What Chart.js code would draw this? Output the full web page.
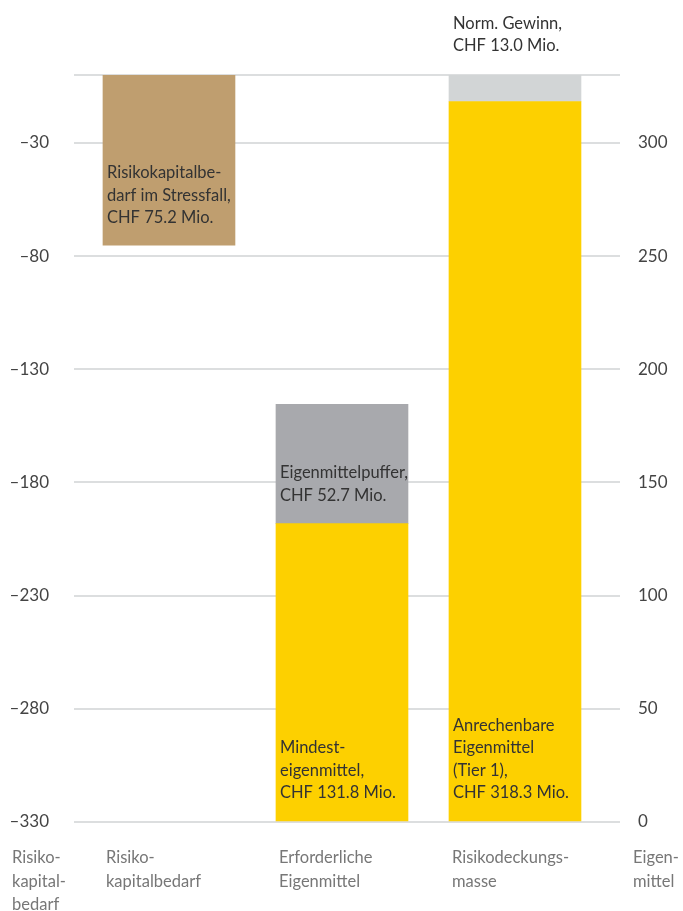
<!DOCTYPE html>
<html>
<head>
<meta charset="utf-8">
<script src="https://cdn.jsdelivr.net/npm/chart.js@4"></script>
<style>
  body { margin: 0; background: #fff; }
  #wrap { width: 683px; height: 911px; }
</style>
</head>
<body>
<div id="wrap"><canvas id="capitalChart"></canvas></div>
<script>
// --- Data ---
const categories = [['Risiko-', 'kapitalbedarf'], ['Erforderliche', 'Eigenmittel'], ['Risikodeckungs-', 'masse']];
const leftAxisTitle = ['Risiko-', 'kapital-', 'bedarf'];
const rightAxisTitle = ['Eigen-', 'mittel'];

const stressCapital = [75.2, null, null];    // Risikokapitalbedarf im Stressfall (left axis, downwards from 0)
const minimumCapital = [null, 131.8, null];  // Mindesteigenmittel
const capitalBuffer = [null, 52.7, null];    // Eigenmittelpuffer
const eligibleCapital = [null, null, 318.3]; // Anrechenbare Eigenmittel (Tier 1)
const normProfit = [null, null, 13.0];       // Norm. Gewinn

const leftTicks = [-330, -280, -230, -180, -130, -80, -30, 0];
const rightTicks = [0, 50, 100, 150, 200, 250, 300, 330];

const barLabels = [
    { dataset: 0, index: 0, anchor: 'top', lines: ['Risikokapitalbe-', 'darf im Stressfall,', 'CHF 75.2 Mio.'] },
    { dataset: 2, index: 1, anchor: 'bottom', lines: ['Eigenmittelpuffer,', 'CHF 52.7 Mio.'] },
    { dataset: 1, index: 1, anchor: 'bottom', lines: ['Mindest-', 'eigenmittel,', 'CHF 131.8 Mio.'] },
    { dataset: 3, index: 2, anchor: 'bottom', lines: ['Anrechenbare', 'Eigenmittel', '(Tier 1),', 'CHF 318.3 Mio.'] },
    { dataset: 4, index: 2, anchor: 'above', lines: ['Norm. Gewinn,', 'CHF 13.0 Mio.'] }
];

const FONT = 'Lato, "Open Sans", sans-serif';

// floating bar ranges built from the values
const toPoints = (vals, base) => vals
    .map((v, i) => v == null ? null : { x: i, y: [base ? base[i] : 0, (base ? base[i] : 0) + v] })
    .filter(p => p);

const stressPoints = stressCapital
    .map((v, i) => v == null ? null : { x: i, y: [-v, 0] })
    .filter(p => p);

// --- Labels plugin ---
const labelPlugin = {
    id: 'labels',
    afterDatasetsDraw(chart) {
        const ctx = chart.ctx;
        const area = chart.chartArea;
        const lh = 22.5;
        ctx.save();
        ctx.font = '16.5px ' + FONT;
        ctx.textBaseline = 'middle';
        ctx.textAlign = 'left';
        ctx.fillStyle = '#333';
        barLabels.forEach(l => {
            const meta = chart.getDatasetMeta(l.dataset);
            const bar = meta.data.find((d, k) => meta._parsed[k].x === l.index);
            if (!bar) return;
            const left = bar.x - bar.width / 2 + 4;
            const top = Math.min(bar.y, bar.base);
            const bottom = Math.max(bar.y, bar.base);
            l.lines.forEach((t, k) => {
                let y;
                if (l.anchor === 'top') y = top + 98 + k * lh;
                else if (l.anchor === 'above') y = area.top - 29 - (l.lines.length - 1 - k) * lh;
                else y = bottom - 28 - (l.lines.length - 1 - k) * lh;
                ctx.fillText(t, left, y);
            });
        });

        // category labels under the bars
        ctx.fillStyle = '#777';
        const xs = chart.scales.x;
        const y0 = area.bottom + 36;
        const lh2 = 23.5;
        categories.forEach((lines, i) => {
            const left = xs.getPixelForValue(i) - 66 + 3;
            lines.forEach((t, k) => ctx.fillText(t, left, y0 + k * lh2));
        });
        leftAxisTitle.forEach((t, k) => ctx.fillText(t, 12, y0 + k * lh2));
        rightAxisTitle.forEach((t, k) => ctx.fillText(t, 633, y0 + k * lh2));
        ctx.restore();
    }
};

// --- Chart ---
const ctx = document.getElementById('capitalChart').getContext('2d');
new Chart(ctx, {
    type: 'bar',
    data: {
        datasets: [
            { label: 'Risikokapitalbedarf im Stressfall', data: stressPoints, yAxisID: 'yL', backgroundColor: '#BF9E6F' },
            { label: 'Mindesteigenmittel', data: toPoints(minimumCapital), yAxisID: 'yR', backgroundColor: '#FDD000' },
            { label: 'Eigenmittelpuffer', data: toPoints(capitalBuffer, minimumCapital), yAxisID: 'yR', backgroundColor: '#A8A9AD' },
            { label: 'Anrechenbare Eigenmittel', data: toPoints(eligibleCapital), yAxisID: 'yR', backgroundColor: '#FDD000' },
            { label: 'Norm. Gewinn', data: toPoints(normProfit, eligibleCapital), yAxisID: 'yR', backgroundColor: '#D2D5D6' }
        ]
    },
    options: {
        responsive: true,
        maintainAspectRatio: false,
        animation: false,
        layout: { padding: { top: 75, bottom: 89, left: 0, right: 0 } },
        datasets: { bar: { barThickness: 132, grouped: false, borderWidth: 0 } },
        plugins: {
            legend: { display: false },
            tooltip: { enabled: false }
        },
        scales: {
            x: {
                type: 'linear',
                display: false,
                offset: false,
                min: -0.549,
                max: 2.607
            },
            yL: {
                position: 'left',
                min: -330,
                max: 0,
                afterBuildTicks: s => { s.ticks = leftTicks.map(v => ({ value: v })); },
                afterFit: s => { s.width = 74; },
                grid: { display: false },
                border: { display: false },
                ticks: {
                    padding: 17,
                    color: '#444',
                    font: { family: FONT, size: 17 },
                    callback: v => v === 0 ? '' : '\u2013' + Math.abs(v)
                }
            },
            yR: {
                position: 'right',
                min: 0,
                max: 330,
                afterBuildTicks: s => { s.ticks = rightTicks.map(v => ({ value: v })); },
                afterFit: s => { s.width = 63; },
                grid: { color: '#DCDEDF', lineWidth: 2, drawTicks: false },
                border: { display: false },
                ticks: {
                    padding: 18,
                    color: '#444',
                    font: { family: FONT, size: 17 },
                    callback: v => v === 330 ? '' : String(v)
                }
            }
        }
    },
    plugins: [labelPlugin]
});
</script>
</body>
</html>
